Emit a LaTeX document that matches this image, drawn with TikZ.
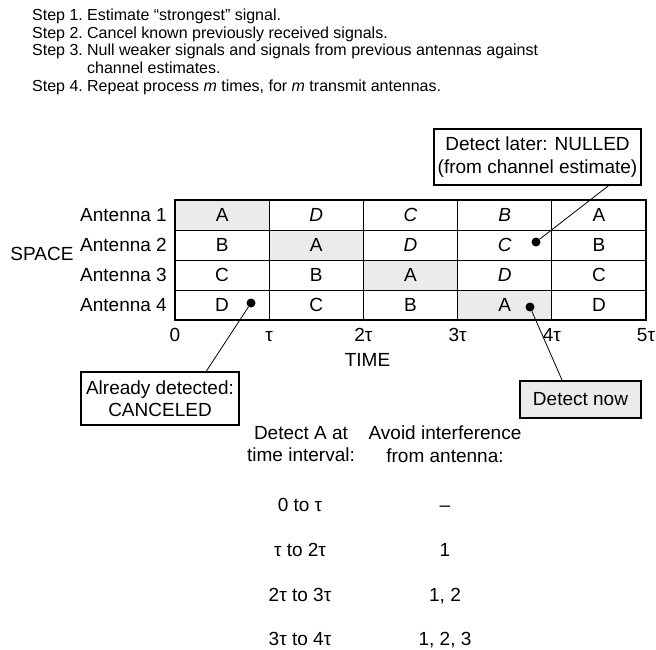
\documentclass[tikz,border=0pt]{standalone}
\usepackage{fontspec}
\setmainfont{Liberation Sans}
\usepackage{tikz}
\usetikzlibrary{calc,positioning}
\definecolor{litegray}{gray}{0.92}

\begin{document}
\begin{tikzpicture}[
  x=1pt, y=-1pt,
  font=\fontsize{19}{22.5}\selectfont,
  cell/.style={draw, line width=1pt, outer sep=0pt, inner sep=0pt, minimum width=94.2pt, minimum height=30pt},
  axislabel/.style={inner sep=2pt},
  entry/.style={inner sep=1pt},
  callout/.style={draw, line width=1.6pt, align=center, inner sep=3pt},
  dot/.style={circle, fill=black, inner sep=0pt, minimum size=9pt},
  link/.style={line width=0.8pt}
]
\useasboundingbox (0,0) rectangle (656,649);

% the four steps
\node[anchor=north west, inner sep=0pt, font=\fontsize{16}{17.7}\selectfont] (steps) at (32,7.75) {%
  \begin{tabular}{@{}l@{\hspace{4.3pt}}l@{}}
  Step 1. & Estimate ``strongest'' signal.\\
  Step 2. & Cancel known previously received signals.\\
  Step 3. & Null weaker signals and signals from previous antennas against\\
          & channel estimates.\\
  Step 4. & Repeat process \textit{m} times, for \textit{m} transmit antennas.
  \end{tabular}};

% space-time grid
\foreach \row/\letters in {1/{A,D,C,B,A},2/{B,A,D,C,B},3/{C,B,A,D,C},4/{D,C,B,A,D}}{
  \foreach \lab [count=\col] in \letters {
    \ifnum\row=\col \def\cellfill{litegray}\else\def\cellfill{white}\fi
    \pgfmathtruncatemacro{\slant}{and(\col>\row,\col<5)}
    \node[cell, fill=\cellfill] (c-\row-\col) at ({175+94.2*(\col-0.5)},{200+30*(\row-0.5)}) {\ifnum\slant=1 \itshape\fi\lab};
  }
  \node[axislabel, left=6pt of c-\row-1] (ant\row) {Antenna \row};
}
\draw[line width=1.8pt] (c-1-1.north west) rectangle (c-4-5.south east);

\node (space) at (42,254) {SPACE};
\foreach \k/\t in {0/0,1/τ,2/2τ,3/3τ,4/4τ,5/5τ}
  \node[entry, anchor=base] (tick\k) at ({175+94.2*\k},341) {\t};
\node (time) at (367.5,360) {TIME};

% markers and callouts
\node[dot] (dot-cancel) at (251,303) {};
\node[dot] (dot-null) at (536,242) {};
\node[dot] (dot-now) at (530,307) {};

\node[callout, minimum width=207pt, minimum height=56pt] (nulled) at (537.5,157) {Detect later: NULLED\\(from channel estimate)};
\node[callout, minimum width=158pt, minimum height=53pt] (canceled) at (160,398.5) {Already detected:\\CANCELED};
\node[callout, fill=litegray, minimum width=121pt, minimum height=37pt] (now) at (580.5,399.5) {Detect now};

\draw[link] (dot-cancel) -- ($(canceled.north west)!0.79!(canceled.north east)$);
\draw[link] (dot-null) -- ($(nulled.south west)!0.84!(nulled.south east)$);
\draw[link] (dot-now) -- ($(now.north west)!0.35!(now.north east)$);

% interference table
\node[entry, align=center] (hdrint) at (301,444) {Detect A at\\time interval:};
\node[entry, align=center] (hdrant) at (445,444) {Avoid interference\\from antenna:};
\foreach \iv/\av/\yy [count=\i] in {0 to τ/–/511.5, τ to 2τ/1/556.5, 2τ to 3τ/{1, 2}/601.5, 3τ to 4τ/{1, 2, 3}/645.5}{
  \node[entry, anchor=base] (intv\i) at (300,\yy) {\iv};
  \node[entry, anchor=base] (avoid\i) at (445,\yy) {\av};
}
\end{tikzpicture}
\end{document}
